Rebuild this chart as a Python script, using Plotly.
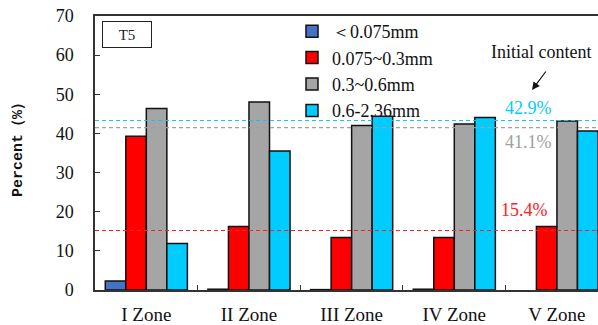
import plotly.graph_objects as go

zones = ["I Zone", "II Zone", "III Zone", "IV Zone", "V Zone"]
series_names = ["＜0.075mm", "0.075~0.3mm", "0.3~0.6mm", "0.6-2.36mm"]
s_lt0075 = [2.3, 0.2, 0.1, 0.2, None]
s_0075_03 = [39.3, 16.2, 13.4, 13.4, 16.2]
s_03_06 = [46.4, 48.0, 42.0, 42.4, 43.2]
s_06_236 = [11.9, 35.5, 44.4, 44.1, 40.6]
colors = ["#4472C4", "#FF0000", "#A5A5A5", "#00CCFF"]

init_values = [43.3, 41.5, 15.2]
init_labels = ["42.9%", "41.1%", "15.4%"]
init_colors = ["#00CCFF", "#A0A0A0", "#FF2020"]

W, H = 598, 325
L, R, T, B = 95, 0, 16, 35
pw, ph = W - L - R, H - T - B

def px(x):
    return (x - L) / pw

def py(y):
    return (H - B - y) / ph

fig = go.Figure()
for name, vals, c in zip(series_names, [s_lt0075, s_0075_03, s_03_06, s_06_236], colors):
    fig.add_trace(go.Bar(x=zones, y=vals, name=name,
                         marker=dict(color=c, line=dict(color="#111111", width=1.5))))

serif = "Liberation Serif"
mono = "Liberation Mono"

shapes = []
for v, c in zip(init_values, init_colors):
    shapes.append(dict(type="line", xref="paper", yref="y", x0=0, x1=1, y0=v, y1=v,
                       line=dict(color=c, width=1.2, dash="4px,3px")))

annotations = [
    dict(text="T5", xref="paper", yref="paper", x=px(127), y=py(34.5), showarrow=False,
         font=dict(family=serif, size=15, color="#222"), bordercolor="#222", borderwidth=1,
         width=46, height=23, xanchor="center", yanchor="middle"),
    dict(text="Initial content", xref="paper", yref="paper", x=px(541), y=py(52), showarrow=False,
         font=dict(family=serif, size=18, color="#111"), xanchor="center", yanchor="middle"),
    dict(text="", xref="paper", yref="paper", x=px(532), y=py(90), ax=15, ay=-20,
         showarrow=True, arrowhead=2, arrowsize=1.3, arrowwidth=1.2, arrowcolor="#111"),
    dict(text="<b>Percent（%）</b>", xref="paper", yref="paper", x=px(18), y=py(146), textangle=-90,
         showarrow=False, font=dict(family=mono, size=15, color="#111"),
         xanchor="center", yanchor="middle"),
]
label_pos = [(528, 108), (528, 142), (524, 210)]
for (lx, ly), t, c in zip(label_pos, init_labels, init_colors):
    annotations.append(dict(text=t, xref="paper", yref="paper", x=px(lx), y=py(ly), showarrow=False,
                            font=dict(family=serif, size=18, color=c), xanchor="center", yanchor="middle"))

fig.update_layout(
    width=W, height=H, margin=dict(l=L, r=R, t=T, b=B),
    paper_bgcolor="white", plot_bgcolor="white",
    barmode="group", bargap=0.2, bargroupgap=0,
    font=dict(family=serif, size=18, color="#111"),
    shapes=shapes, annotations=annotations,
    legend=dict(x=px(292), y=py(13), xanchor="left", yanchor="top",
                font=dict(family=serif, size=18, color="#111"),
                bgcolor="rgba(0,0,0,0)", itemwidth=30, tracegroupgap=0),
    xaxis=dict(type="category", range=[-0.5, 4.40], showline=True, linecolor="#333", linewidth=1.5,
               mirror=True, ticks="inside", tickson="boundaries", ticklen=5, tickcolor="#333",
               showgrid=False, tickfont=dict(family=serif, size=19, color="#111"),
               ticklabelstandoff=6),
    yaxis=dict(range=[0, 70], dtick=10, showline=True, linecolor="#333", linewidth=1.5,
               ticks="inside", ticklen=5, tickcolor="#333", showgrid=False, zeroline=False,
               tickfont=dict(family=serif, size=18, color="#111"), ticklabelstandoff=16),
)

fig.write_html("out.html", config={"displayModeBar": False},
               post_script="document.body.style.margin='0';")
